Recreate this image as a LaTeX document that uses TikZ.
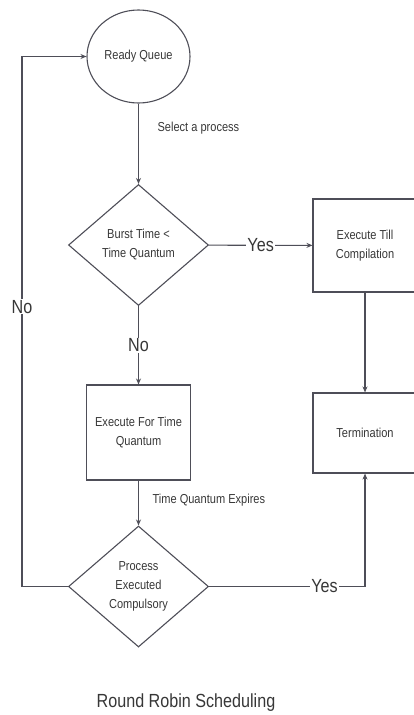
\documentclass[tikz,border=0pt]{standalone}
\usepackage{fontspec}
\setmainfont{Liberation Sans}[FakeStretch=0.85]
\usetikzlibrary{shapes.geometric,arrows.meta}
\definecolor{flowline}{RGB}{78,78,88}
\definecolor{flowtext}{RGB}{55,55,55}
\begin{document}
\begin{tikzpicture}[x=1pt, y=-1pt,
    line width=1.1pt, draw=flowline, text=flowtext,
    >={Stealth[length=6pt,width=5pt]},
    lbl/.style={font=\fontsize{13}{19}\selectfont, align=center, inner sep=0pt},
    big/.style={font=\fontsize{19}{22}\selectfont, inner sep=1pt, fill=white},
    startnode/.style={ellipse, draw=flowline, lbl, minimum width=103pt, minimum height=93pt},
    choice/.style={diamond, draw=flowline, lbl, minimum width=140pt, minimum height=121pt},
    stepbox/.style={rectangle, draw=flowline, lbl, minimum width=104pt}]
    \useasboundingbox (0,0) rectangle (414,715);

    % Main column
    \node[startnode] (ready) at (138.5,56.5) {Ready Queue};
    \node[choice] (burst) at (138.5,245) {Burst Time <\\Time Quantum};
    \node[stepbox, minimum height=95pt] (execq) at (138.5,432.5) {Execute For Time\\Quantum};
    \node[choice] (proc) at (138.5,586.5) {Process\\Executed\\Compulsory};

    % Right column
    \node[stepbox, minimum height=93pt] (exectill) at (365,245.5) {Execute Till\\Compilation};
    \node[stepbox, minimum height=80pt] (term) at (365,433) {Termination};

    % Edge labels
    \node[lbl, anchor=west] (selectlbl) at (157,128) {Select a process};
    \node[lbl, anchor=west] (expirelbl) at (152,500) {Time Quantum Expires};

    % Connectors
    \draw[->] (ready) -- (burst);
    \draw[->] (burst) -- node[big] {Yes} (exectill);
    \draw[->] (burst) -- node[big] {No} (execq);
    \draw[->] (exectill) -- (term);
    \draw[->] (execq) -- (proc);
    \draw[->] (proc.east) -| node[big, pos=0.37] {Yes} (term.south);

    % Loop back to the queue
    \coordinate (noturn) at (22,586.5);
    \draw[->] (proc.west) -- (noturn) |- node[big, pos=0.264] {No} (ready.west);

    % Title
    \node[big, fill=none] (title) at (186,703) {Round Robin Scheduling};
\end{tikzpicture}
\end{document}
